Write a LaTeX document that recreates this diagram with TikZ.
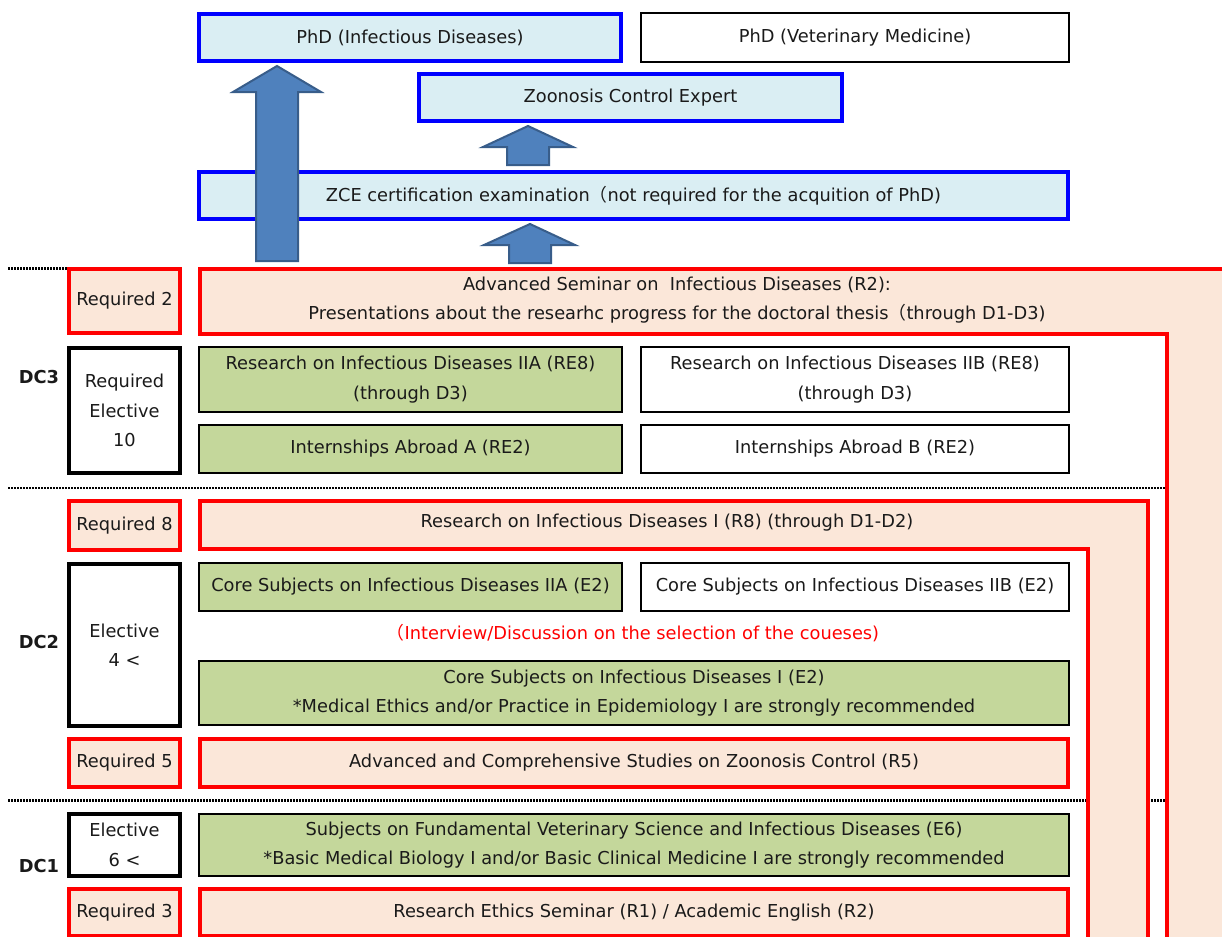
\documentclass[tikz,border=0pt]{standalone}
\usepackage{fontspec}
\setmainfont{DejaVu Sans}
\newfontfamily\cjk{Noto Sans CJK JP}
\newcommand{\fwp}{{\cjk （}}
\definecolor{peach}{HTML}{FBE7D9}
\definecolor{lblue}{HTML}{DAEEF3}
\definecolor{olive}{HTML}{C4D79B}
\definecolor{arrfill}{HTML}{4F81BD}
\definecolor{arredge}{HTML}{385D8A}
\definecolor{txt}{HTML}{1A1A1A}
\begin{document}
\begin{tikzpicture}[x=0.5pt,y=-0.5pt,
  every node/.style={inner sep=0pt,outer sep=0pt,align=center,text=txt,
    font=\fontsize{8.9}{14.75}\selectfont},
  wh/.style 2 args={minimum width=#1*0.5pt,minimum height=#2*0.5pt},
  bluebox/.style={draw=blue,line width=1.7pt,fill=lblue,rectangle},
  redbox/.style={draw=red,line width=1.6pt,fill=peach,rectangle},
  greenbox/.style={draw=black,line width=1pt,fill=olive,rectangle},
  whitebox/.style={draw=black,line width=1pt,fill=white,rectangle},
  creditbox/.style={draw=black,line width=1.6pt,fill=white,rectangle},
  redshape/.style={draw=red,line width=1.6pt,fill=peach},
  bigarrow/.style={fill=arrfill,draw=arredge,line width=1pt,line join=miter},
  sep/.style={line width=1.1pt,dash pattern=on 1pt off 0.5pt},
  dclabel/.style={font=\fontsize{8.9}{14.75}\selectfont\bfseries}]
\useasboundingbox (0,0) rectangle (1222,937);
\clip (0,0) rectangle (1222,937);
% separators
\draw[sep] (8,268.5) -- (68,268.5);
\draw[sep] (8,488) -- (1166,488);
\draw[sep] (8,800.5) -- (1167,800.5);
% L-shaped required bands
\draw[redshape] (200,269) -- (1240,269) -- (1240,960) -- (1167,960) -- (1167,334) -- (200,334) -- cycle;
\node (advsem) at (677,300) {Advanced Seminar on\ \ Infectious Diseases (R2):\\Presentations about the researhc progress for the doctoral thesis\fwp through D1-D3)};
\draw[redshape] (200,501) -- (1148,501) -- (1148,960) -- (1088,960) -- (1088,549) -- (200,549) -- cycle;
\node (resI) at (667,523) {Research on Infectious Diseases I (R8) (through D1-D2)};
% top boxes
\node[bluebox,wh={422}{47}] (phdid) at (410,37.5) {PhD (Infectious Diseases)};
\node[whitebox,wh={428}{49}] (phdvm) at (855,37.5) {PhD (Veterinary Medicine)};
\node[bluebox,wh={423}{47}] (zce) at (630.5,97.5) {Zoonosis Control Expert};
\node[bluebox,wh={869}{47}] (exam) at (633.5,195.5) {ZCE certification examination\fwp not required for the acquition of PhD)};
% arrows
\draw[bigarrow] (256,261) -- (256,92) -- (233,92) -- (277,66) -- (321,92) -- (298,92) -- (298,261) -- cycle;
\draw[bigarrow] (507,165) -- (507,147) -- (483,147) -- (528,126) -- (573,147) -- (549,147) -- (549,165) -- cycle;
\draw[bigarrow] (509,263) -- (509,245) -- (484,245) -- (530,224) -- (575,245) -- (551,245) -- (551,263) -- cycle;
% DC3
\node[redbox,wh={111}{64}] (req2) at (124.5,301) {Required 2};
\node[dclabel] (dc3) at (39,377) {DC3};
\node[creditbox,wh={111}{125}] (reqel) at (124.5,410.5) {Required\\Elective\\10};
\node[greenbox,wh={423}{65}] (resIIA) at (410.5,379.5) {Research on Infectious Diseases IIA (RE8)\\(through D3)};
\node[whitebox,wh={428}{65}] (resIIB) at (855,379.5) {Research on Infectious Diseases IIB (RE8)\\(through D3)};
\node[greenbox,wh={423}{48}] (intA) at (410.5,449) {Internships Abroad A (RE2)};
\node[whitebox,wh={428}{48}] (intB) at (855,449) {Internships Abroad B (RE2)};
% DC2
\node[redbox,wh={111}{49}] (req8) at (124.5,525.5) {Required 8};
\node[dclabel] (dc2) at (39,642) {DC2};
\node[creditbox,wh={111}{162}] (el4) at (124.5,645) {Elective\\4 <};
\node[greenbox,wh={423}{48}] (coreIIA) at (410.5,587) {Core Subjects on Infectious Diseases IIA (E2)};
\node[whitebox,wh={428}{48}] (coreIIB) at (855,587) {Core Subjects on Infectious Diseases IIB (E2)};
\node[text=red] (interview) at (633,633) {\fwp Interview/Discussion on the selection of the coueses)};
\node[greenbox,wh={870}{64}] (coreI) at (634,693) {Core Subjects on Infectious Diseases I (E2)\\*Medical Ethics and/or Practice in Epidemiology I are strongly recommended};
\node[redbox,wh={111}{48}] (req5) at (124.5,763) {Required 5};
\node[redbox,wh={868}{48}] (advcomp) at (634,763) {Advanced and Comprehensive Studies on Zoonosis Control (R5)};
% DC1
\node[creditbox,wh={111}{62}] (el6) at (124.5,845) {Elective\\6 <};
\node[dclabel] (dc1) at (39,866) {DC1};
\node[greenbox,wh={870}{62}] (fund) at (634,845) {Subjects on Fundamental Veterinary Science and Infectious Diseases (E6)\\*Basic Medical Biology I and/or Basic Clinical Medicine I are strongly recommended};
\node[redbox,wh={111}{47}] (req3) at (124.5,912.5) {Required 3};
\node[redbox,wh={868}{47}] (ethics) at (634,912.5) {Research Ethics Seminar (R1) / Academic English (R2)};
\end{tikzpicture}
\end{document}
